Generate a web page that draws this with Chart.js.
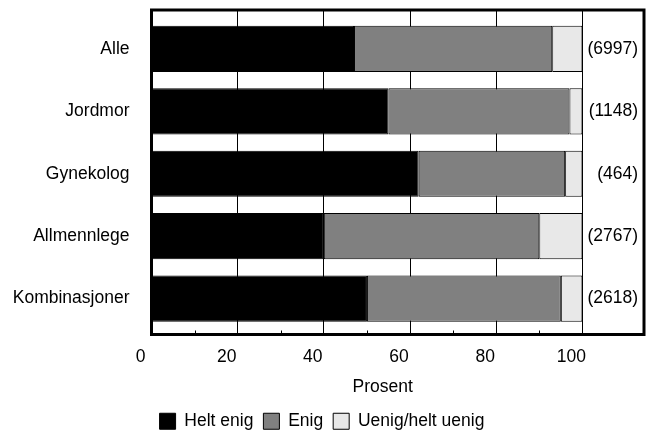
<!DOCTYPE html>
<html>
<head>
<meta charset="utf-8">
<script src="https://cdn.jsdelivr.net/npm/chart.js@4/dist/chart.umd.min.js"></script>
<style>
  html, body { margin: 0; padding: 0; background: #fff; }
  canvas { display: block; }
</style>
</head>
<body>
<canvas id="c" width="651" height="440"></canvas>
<script>
const categories = ['Alle', 'Jordmor', 'Gynekolog', 'Allmennlege', 'Kombinasjoner'];
const heltEnig = [47, 55, 62, 40, 50];
const enig = [46, 42, 34, 50, 45];
const uenig = [7, 3, 4, 10, 5];
const counts = [6997, 1148, 464, 2767, 2618];
const xTickValues = [0, 20, 40, 60, 80, 100];
const xMinorTickValues = [10, 30, 50, 70, 90];
const seriesNames = ['Helt enig', 'Enig', 'Uenig/helt uenig'];
const xTitle = 'Prosent';

const FONT = "'Liberation Sans', Arial, sans-serif";
const FS = 17.5;

const toPoints = arr => arr.map((v, i) => ({ x: v, y: i }));

const decor = {
  id: 'decor',
  afterDatasetsDraw(chart) {
    const { ctx, chartArea: a, scales } = chart;
    const xs = scales.x;
    ctx.save();
    ctx.strokeStyle = '#000';
    ctx.lineWidth = 1;
    xMinorTickValues.forEach(v => {
      const px = Math.round(xs.getPixelForValue(v)) + 0.5;
      ctx.beginPath();
      ctx.moveTo(px, a.bottom);
      ctx.lineTo(px, a.bottom - 4);
      ctx.stroke();
    });
    ctx.lineWidth = 3;
    ctx.strokeRect(a.left, a.top, a.right - a.left, a.bottom - a.top);
    ctx.restore();
  },
  afterDraw(chart) {
    const { ctx, chartArea: a, scales } = chart;
    const ys = scales.y;
    ctx.save();
    ctx.fillStyle = '#000';
    ctx.font = FS + 'px ' + FONT;
    ctx.textAlign = 'right';
    ctx.textBaseline = 'middle';
    counts.forEach((n, i) => {
      ctx.fillText('(' + n + ')', a.right - 6, ys.getPixelForValue(i));
    });
    ctx.textAlign = 'center';
    ctx.fillText(xTitle, (a.left + a.right) / 2 - 15, a.bottom + 53);
    ctx.restore();
  }
};

new Chart(document.getElementById('c'), {
  type: 'bar',
  data: {
    datasets: [
      { label: seriesNames[0], data: toPoints(heltEnig), backgroundColor: '#000000', borderColor: '#000000', borderWidth: 1, borderSkipped: false },
      { label: seriesNames[1], data: toPoints(enig), backgroundColor: '#808080', borderColor: '#000000', borderWidth: 1, borderSkipped: false },
      { label: seriesNames[2], data: toPoints(uenig), backgroundColor: '#e8e8e8', borderColor: '#000000', borderWidth: 1, borderSkipped: false }
    ]
  },
  options: {
    indexAxis: 'y',
    responsive: false,
    animation: false,
    devicePixelRatio: 1,
    layout: { padding: { left: 0, right: 7, top: 10, bottom: 0 } },
    datasets: { bar: { categoryPercentage: 1, barPercentage: 0.74 } },
    scales: {
      x: {
        type: 'linear',
        stacked: true,
        min: 0,
        max: 114.3,
        offset: false,
        afterBuildTicks: s => { s.ticks = xTickValues.map(v => ({ value: v })); },
        afterFit: s => { s.height = 68; },
        grid: { color: '#000', lineWidth: 1, drawTicks: false, offset: false },
        border: { display: false },
        ticks: { color: '#000', font: { family: FONT, size: FS }, padding: 12, labelOffset: -11, maxRotation: 0, autoSkip: false }
      },
      y: {
        type: 'linear',
        stacked: true,
        reverse: true,
        min: -0.624,
        max: 4.576,
        offset: false,
        afterBuildTicks: s => { s.ticks = categories.map((c, i) => ({ value: i })); },
        afterFit: s => { s.width = 151.5; s.paddingTop = 0; s.paddingBottom = 0; },
        grid: { display: false, drawTicks: false, offset: false },
        border: { display: false },
        ticks: { color: '#000', font: { family: FONT, size: FS }, padding: 22, autoSkip: false,
          callback: v => categories[v] }
      }
    },
    plugins: {
      legend: {
        position: 'bottom',
        labels: { color: '#000', font: { family: FONT, size: FS }, boxWidth: 16, boxHeight: 16, padding: 10 }
      },
      tooltip: { enabled: false }
    }
  },
  plugins: [decor]
});
</script>
</body>
</html>
